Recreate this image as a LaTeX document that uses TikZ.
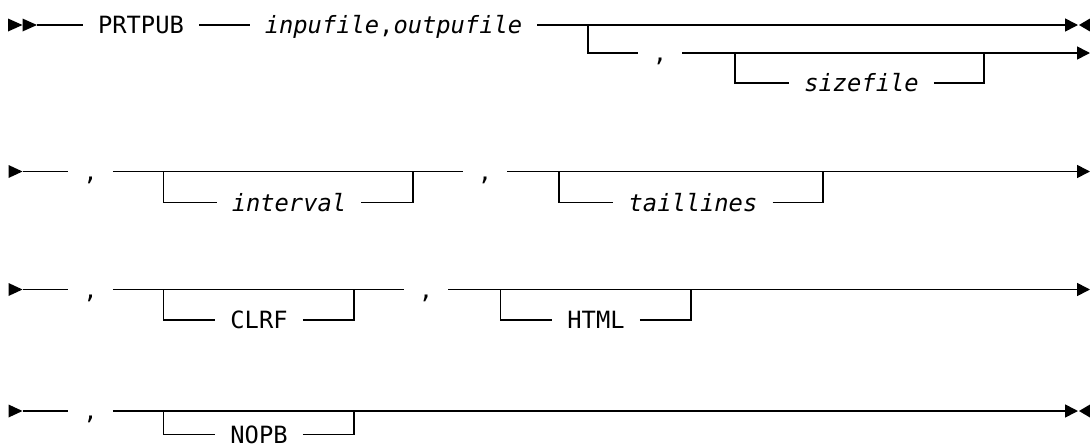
\documentclass[tikz,border=0pt]{standalone}
\usepackage{fontspec}
\usepackage{tikz}
\usetikzlibrary{arrows.meta}
\newfontfamily\railfont{DejaVu Sans Mono}
\newcommand{\railsize}{\fontsize{23.75}{28}\selectfont}

\tikzset{
  rail/.style={line width=1.6pt},
  railend/.style={rail, -{Triangle[length=13pt,width=13pt]}},
  word/.style={font=\railfont\railsize, inner xsep=15pt, inner ysep=0pt,
               text height=17.3pt, text depth=0pt},
  var/.style={word, font=\railfont\railsize\itshape},
}

\begin{document}
\begin{tikzpicture}[x=1pt, y=-1pt]
  \useasboundingbox (0,0) rectangle (1090,445);

  % Row 1: command and file names
  \fill (8,18.5) -- (22.5,25) -- (8,31.5) -- cycle;
  \fill (22.5,18.5) -- (37,25) -- (22.5,31.5) -- cycle;
  \coordinate (r1start) at (37,25);
  \node[word] (prtpub) at (141,25) {PRTPUB};
  \node[var] (files) at (393.5,25) {inpufile\textup{,}outpufile};
  \coordinate (r1fork) at (588,25);
  \coordinate (r1stop) at (1078,25);
  \draw[rail] (r1start) -- (prtpub);
  \draw[rail] (prtpub) -- (files);
  \draw[railend] (files) -- (r1stop);
  \fill (1090,18.5) -- (1079,25) -- (1090,31.5) -- cycle;

  % continuation with optional sizefile
  \node[word] (comma1) at (660,53) {,};
  \coordinate (r1next) at (1090,53);
  \coordinate (sizeL) at (735,53);
  \coordinate (sizeR) at (984,53);
  \node[var] (sizefile) at (861.5,83) {sizefile};
  \draw[rail] (r1fork) |- (comma1);
  \draw[railend] (comma1) -- (r1next);
  \draw[rail] (sizeL) |- (sizefile) -| (sizeR);

  % Row 2: interval and taillines
  \fill (8.5,165) -- (22.5,171.5) -- (8.5,178) -- cycle;
  \coordinate (r2start) at (22.5,171.5);
  \node[word] (comma2a) at (90.5,171.5) {,};
  \node[word] (comma2b) at (485,171.5) {,};
  \coordinate (r2next) at (1090,171.5);
  \draw[rail] (r2start) -- (comma2a);
  \draw[rail] (comma2a) -- (comma2b);
  \draw[railend] (comma2b) -- (r2next);
  \coordinate (intL) at (163.5,171.5);
  \coordinate (intR) at (413,171.5);
  \node[var] (interval) at (289,202.5) {interval};
  \draw[rail] (intL) |- (interval) -| (intR);
  \coordinate (tailL) at (559,171.5);
  \coordinate (tailR) at (823,171.5);
  \node[var] (taillines) at (693,202.5) {taillines};
  \draw[rail] (tailL) |- (taillines) -| (tailR);

  % Row 3: CLRF and HTML
  \fill (8.5,283) -- (22.5,289.5) -- (8.5,296) -- cycle;
  \coordinate (r3start) at (22.5,289.5);
  \node[word] (comma3a) at (90.5,289.5) {,};
  \node[word] (comma3b) at (426,289.5) {,};
  \coordinate (r3next) at (1090,289.5);
  \draw[rail] (r3start) -- (comma3a);
  \draw[rail] (comma3a) -- (comma3b);
  \draw[railend] (comma3b) -- (r3next);
  \coordinate (clrfL) at (163.5,289.5);
  \coordinate (clrfR) at (354,289.5);
  \node[word] (clrf) at (259,320) {CLRF};
  \draw[rail] (clrfL) |- (clrf) -| (clrfR);
  \coordinate (htmlL) at (500.5,289.5);
  \coordinate (htmlR) at (691,289.5);
  \node[word] (html) at (596,320) {HTML};
  \draw[rail] (htmlL) |- (html) -| (htmlR);

  % Row 4: NOPB and end of statement
  \fill (8.5,404.5) -- (22.5,411) -- (8.5,417.5) -- cycle;
  \coordinate (r4start) at (22.5,411);
  \node[word] (comma4a) at (90.5,411) {,};
  \coordinate (r4stop) at (1078,411);
  \draw[rail] (r4start) -- (comma4a);
  \draw[railend] (comma4a) -- (r4stop);
  \fill (1090,404.5) -- (1079,411) -- (1090,417.5) -- cycle;
  \coordinate (nopbL) at (163.5,411);
  \coordinate (nopbR) at (354,411);
  \node[word] (nopb) at (259,434.5) {NOPB};
  \draw[rail] (nopbL) |- (nopb) -| (nopbR);
\end{tikzpicture}
\end{document}
